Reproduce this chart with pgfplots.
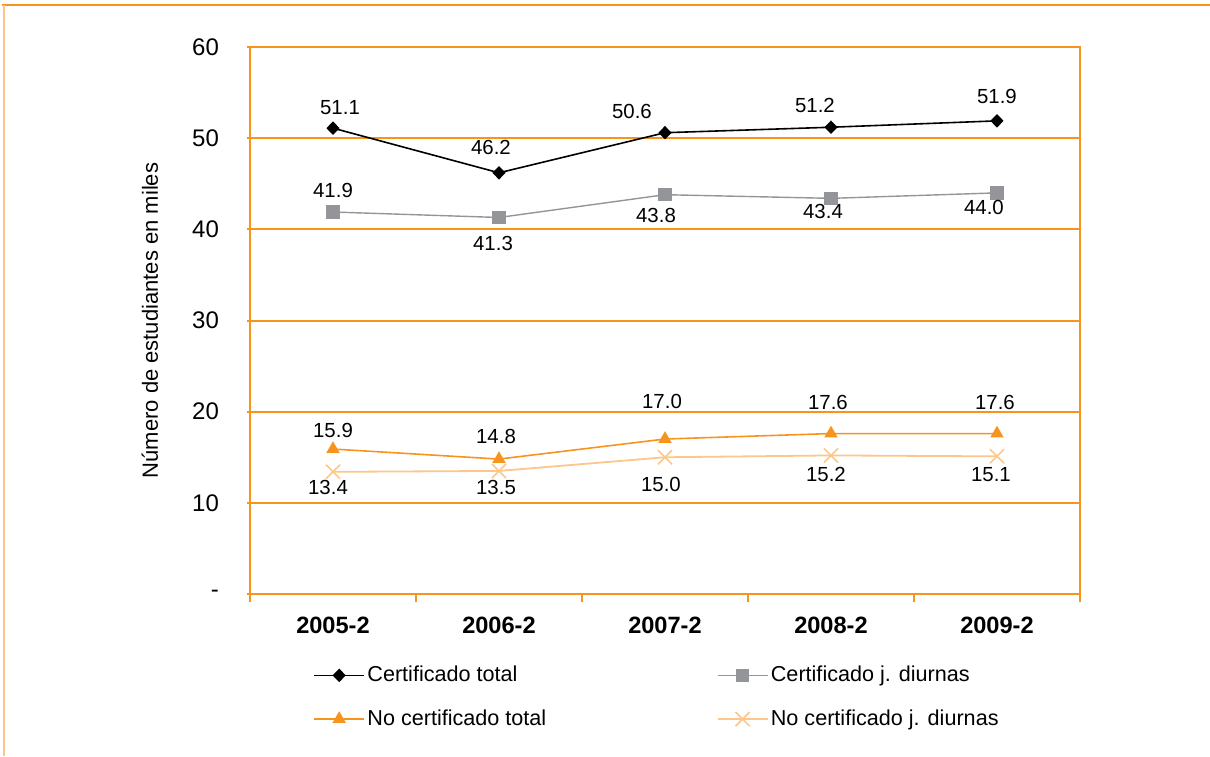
\documentclass[border=0pt]{standalone}
\usepackage{fontspec}
\setmainfont{Liberation Sans}
\usepackage{pgfplots}
\usepackage{pgfplotstable}
\pgfplotsset{compat=1.18}
\definecolor{orangeC}{HTML}{F7941E}
\definecolor{lightO}{HTML}{FDC68A}
\definecolor{grayC}{HTML}{939598}

\pgfplotstableread{
x y dx dy
0 51.1 3.5 10.5
1 46.2 -4 12.5
2 50.6 -16.5 10.5
3 51.2 -8 11
4 51.9 0 12
}\certtotal
\pgfplotstableread{
x y dx dy
0 41.9 0 11
1 41.3 -3 -12.75
2 43.8 -4.5 -10.5
3 43.4 -4 -6.5
4 44.0 -6.5 -7.5
}\certdiurnas
\pgfplotstableread{
x y dx dy
0 15.9 0 9.5
1 14.8 -1.5 11.5
2 17.0 -1.5 19
3 17.6 -1.5 15.75
4 17.6 -1 15.75
}\nocerttotal
\pgfplotstableread{
x y dx dy
0 13.4 -2.5 -8
1 13.5 -1.5 -8.5
2 15.0 -2 -13.5
3 15.2 -2.5 -9.3
4 15.1 -3 -9
}\nocertdiurnas

\pgfplotsset{
  lbl/.style={
    nodes near coords={\pgfmathprintnumber[fixed,fixed zerofill,precision=1]{\pgfplotspointmeta}},
    point meta=explicit,
    visualization depends on={\thisrow{dx}\as\dx},
    visualization depends on={\thisrow{dy}\as\dy},
    every node near coord/.append style={anchor=center, xshift=\dx pt, yshift=\dy pt,
      text=black, font=\fontsize{10.2}{12}\selectfont, inner sep=0pt},
  },
}

\begin{document}
\begin{tikzpicture}
\useasboundingbox (-125pt,-81pt) rectangle (480pt,297pt);
\begin{axis}[
  at={(0pt,0pt)}, anchor=south west,
  scale only axis, width=415pt, height=273.5pt,
  xmin=-0.5, xmax=4.5, ymin=0, ymax=60,
  clip=false,
  /pgf/number format/assume math mode=true,
  xtick={0,1,2,3,4},
  xticklabels={2005-2,2006-2,2007-2,2008-2,2009-2},
  major x tick style={draw=none},
  minor xtick={-0.5,0.5,1.5,2.5,3.5,4.5},
  ytick={0,10,20,30,40,50,60},
  yticklabels={-,10,20,30,40,50,60},
  xtick pos=bottom, ytick pos=left,
  tick align=outside,
  major tick length=1.5pt,
  minor tick length=4pt,
  every tick/.style={orangeC, line width=1pt},
  ymajorgrids,
  grid style={orangeC, line width=1pt},
  axis line style={orangeC, line width=1pt},
  xticklabel style={font=\fontsize{11.8}{14}\selectfont\bfseries, yshift=-6.5pt},
  yticklabel style={font=\fontsize{12}{14}\selectfont, xshift=-10.5pt},
  ylabel={Número de estudiantes en miles},
  every axis y label/.style={at={(axis description cs:-0.1205,0.5)}, rotate=90, anchor=center,
     font=\fontsize{11}{13}\selectfont},
  legend columns=2,
  legend style={draw=none, fill=none, at={(axis description cs:0.0687,-0.12)}, anchor=north west,
     font=\fontsize{10.8}{13}\selectfont, row sep=10.5pt,
     nodes={inner xsep=1.2pt, inner ysep=1pt},
     /tikz/every even column/.append style={column sep=84pt}},
  legend cell align=left,
  legend image code/.code={%
    \draw[mark repeat=2,mark phase=2,#1] plot coordinates {(0pt,0pt) (12.5pt,0pt) (25pt,0pt)};},
]
\addplot[black, line width=0.8pt, mark=diamond*, mark size=2.8pt, mark options={xscale=1.3, fill=black}, lbl]
  table[x=x, y=y, meta=y] {\certtotal};
\addlegendentry{Certificado total}
\addplot[grayC, line width=0.7pt, mark=square*, mark size=3pt, mark options={fill=grayC, draw=grayC}, lbl]
  table[x=x, y=y, meta=y] {\certdiurnas};
\addlegendentry{Certificado j. diurnas}
\addplot[orangeC, line width=0.8pt, mark=triangle*, mark size=3.1pt, mark options={fill=orangeC, draw=orangeC}, lbl]
  table[x=x, y=y, meta=y] {\nocerttotal};
\addlegendentry{No certificado total}
\addplot[lightO, line width=0.9pt, mark=x, mark size=5pt, mark options={draw=lightO, line width=0.8pt}, lbl]
  table[x=x, y=y, meta=y] {\nocertdiurnas};
\addlegendentry{No certificado j. diurnas}
\end{axis}
\draw[orangeC, line width=1pt] (-124pt,294.7pt) -- (480pt,294.7pt);
\draw[lightO, line width=1.2pt] (-123pt,-81pt) -- (-123pt,294.7pt);
\end{tikzpicture}
\end{document}
